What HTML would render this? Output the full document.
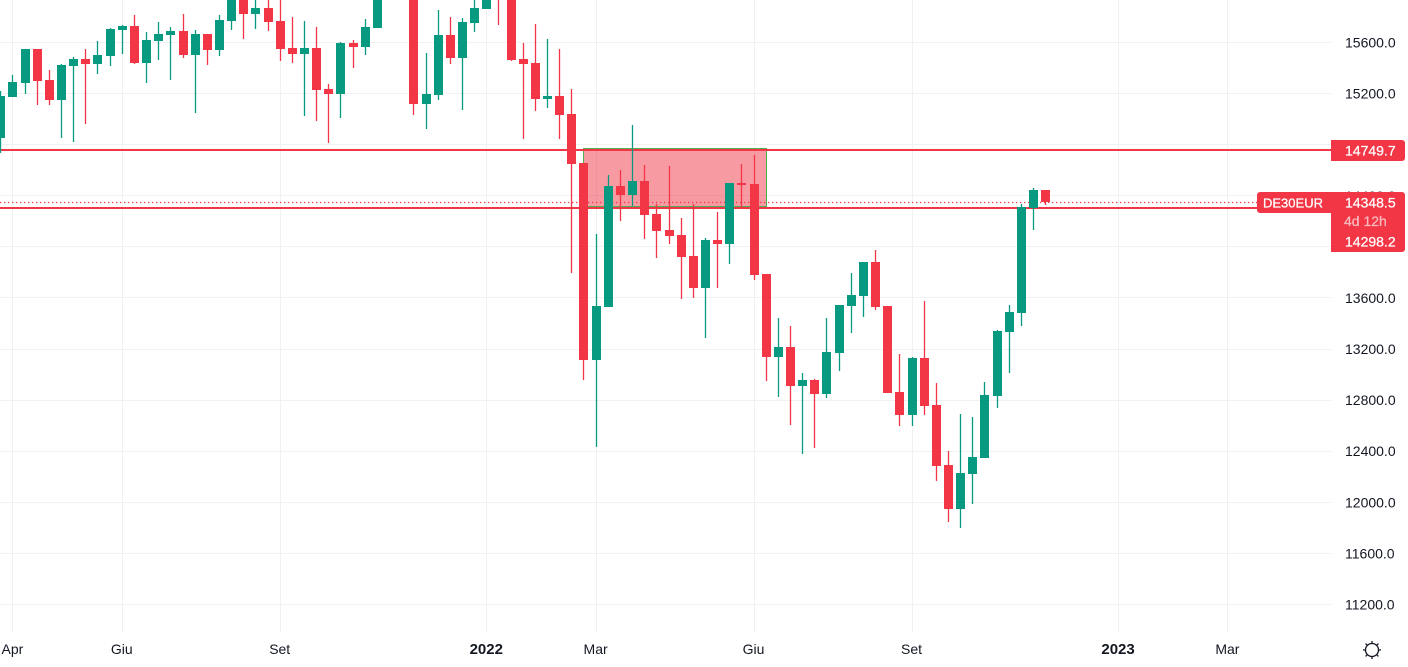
<!DOCTYPE html>
<html lang="it">
<head>
<meta charset="utf-8">
<title>DE30EUR chart</title>
<style>
html,body{margin:0;padding:0;background:#fff;width:1408px;height:667px;overflow:hidden}
svg{display:block;font-family:"Liberation Sans",sans-serif}
text{font-size:14px;fill:#131722}
</style>
</head>
<body>
<svg id="chart" xmlns="http://www.w3.org/2000/svg" width="1408" height="667" viewBox="0 0 1408 667">
  <g id="grid"></g>
  <g id="zone"></g>
  <g id="levels"></g>
  <g id="candles"></g>
  <g id="priceAxis"></g>
  <g id="timeAxis"></g>
  <g id="tags"></g>
  <g id="settings" fill="none" stroke="#131722" stroke-width="1.3">
    <circle cx="1372" cy="650" r="6.5"></circle>
    <path d="M1372 641v2.5M1372 656.5v2.5M1363 650h2.5M1378.5 650h2.5M1365.6 643.6l1.8 1.8M1376.6 654.6l1.8 1.8M1378.4 643.6l-1.8 1.8M1367.4 654.6l-1.8 1.8"></path>
  </g>
</svg>
<script>
var opens = [14854,15172,15282,15548,15305,15149,15415,15469,15430,15493,15696,15727,15438,15610,15657,15688,15501,15665,15540,15767,16009,15821,15868,15767,15555,15508,15555,15235,15195,15595,15563,15712,16000,16300,16050,15117,15188,15657,15477,15751,15860,16100,15990,15469,15438,15156,15180,15039,14656,13114,13529,14476,14405,14515,14257,14131,14092,13928,13678,14053,14022,14499,14491,13787,13138,13216,12911,12958,12848,13169,13537,13615,13881,13537,12864,12684,13130,12762,12293,11949,12223,12348,12833,13334,13482,14304,14444];
var highs = [15219,15344,15548,15548,15383,15430,15485,15548,15610,15712,15735,15814,15681,15759,15720,15821,15696,15665,15814,16087,16087,16009,16009,15990,15798,15767,15720,15274,15602,15618,15782,16050,16150,16350,16100,15516,15853,15798,15790,16000,16050,16150,16050,15595,15743,15626,15548,15235,14656,14100,14562,14601,14953,14640,14335,14632,14225,14335,14069,14272,14499,14648,14718,13787,13443,13380,13013,12966,13443,13545,13795,13881,13975,13537,13161,13138,13576,12934,12402,12692,12668,12942,13349,13545,14335,14460,14444];
var lows = [14736,15172,15195,15109,15109,14851,14820,14961,15352,15415,15508,15430,15282,15462,15305,15477,15047,15422,15493,15696,15626,15704,15688,15454,15438,15023,14984,14812,15008,15399,15501,15712,15950,15960,15031,14922,15149,15430,15070,15681,15860,15735,15454,14843,15063,15086,14843,13795,12958,12434,13529,14202,14319,14061,13912,14022,13592,13599,13287,13678,13865,14311,13740,12950,12825,12606,12379,12426,12817,13028,13326,13451,13506,12856,12598,12598,12684,12168,11847,11800,11988,12348,12739,13013,13380,14131,14327];
var closes = [15180,15289,15548,15297,15149,15422,15469,15430,15501,15704,15727,15438,15618,15665,15688,15501,15665,15540,15774,16009,15821,15868,15759,15548,15508,15555,15227,15195,15595,15563,15720,16000,16100,16050,15117,15195,15657,15477,15759,15868,16000,15960,15462,15430,15156,15180,15031,14648,13114,13537,14476,14405,14515,14249,14124,14085,13920,13678,14053,14022,14499,14484,13779,13138,13216,12911,12958,12848,13177,13545,13623,13881,13529,12856,12684,13130,12755,12285,11949,12230,12356,12841,13341,13490,14311,14444,14348.5];
var priceTicks = [16000,15600,15200,14800,14400,14000,13600,13200,12800,12400,12000,11600,11200];
var timeLabels = ["Apr","Giu","Set","2022","Mar","Giu","Set","2023","Mar"];
var timeLabelCandles = [1,10,23,40,49,62,75,92,101];
var timeLabelBold = [false,false,false,true,false,false,false,true,false];
var levelPrices = [14749.7,14298.2];
var lastPrice = 14348.5;
var zoneTopPrice = 14772;
var zoneBottomPrice = 14309;
var zoneStartCandle = 48;
var zoneEndCandle = 63;

var NS = "http://www.w3.org/2000/svg";
var GREEN = "#089981", RED = "#f23645";
var PLOT_RIGHT = 1331, PLOT_BOTTOM = 632;

function xAt(i){ return 0.75 + 12.15 * i; }
function yAt(p){ return 42.5 + (15600 - p) * 0.12773; }
function make(tag, parent, props){
  var el = document.createElementNS(NS, tag);
  for (var k in props) el.setAttribute(k, props[k]);
  parent.appendChild(el);
  return el;
}

var grid = document.getElementById("grid");
priceTicks.forEach(function(p){
  var r = make("rect", grid, {x:0, y:Math.floor(yAt(p)), width:PLOT_RIGHT, height:1, fill:"#f0f1f3"});
  
  
});
timeLabelCandles.forEach(function(i){
  var r = make("rect", grid, {x:Math.floor(xAt(i)), y:0, width:1, height:PLOT_BOTTOM, fill:"#f0f1f3"});
  
  
});

var zone = document.getElementById("zone");
var zx = Math.round(xAt(zoneStartCandle)) - 0.5;
var zw = Math.round(xAt(zoneEndCandle)) + 0.5 - zx;
var zy = Math.round(yAt(zoneTopPrice)) + 0.5;
var zh = Math.round(yAt(zoneBottomPrice)) - 0.5 - zy;
var zoneRect = make("rect", zone, {x:zx, y:zy, width:zw, height:zh, fill:"rgba(242,54,69,0.5)", stroke:"#4caf50", "stroke-width":1});



var levels = document.getElementById("levels");
var dotY = Math.floor(yAt(lastPrice));
var dots = make("line", levels, {x1:0, x2:PLOT_RIGHT, y1:dotY + 0.5, y2:dotY + 0.5, stroke:RED, "stroke-width":1.3, "stroke-dasharray":"1.3 2.7"});


levelPrices.forEach(function(p){
  var r = make("rect", levels, {x:0, y:Math.floor(yAt(p) - 1.6), width:PLOT_RIGHT, height:2, fill:RED});
  
  
});

var candles = document.getElementById("candles");
opens.forEach(function(o, i){
  var c = closes[i], up = c >= o, col = up ? GREEN : RED;
  var left = Math.round(xAt(i) - 4.5);
  var hiY = Math.round(yAt(highs[i])), loY = Math.round(yAt(lows[i]));
  var top = Math.round(yAt(Math.max(o, c))), bot = Math.round(yAt(Math.min(o, c)));
  var g = make("g", candles, {});
  
  
  make("rect", g, {x:left + 3.85, y:hiY, width:1.3, height:Math.max(loY - hiY, 1), fill:col});
  make("rect", g, {x:left, y:top, width:9, height:Math.max(bot - top, 1), fill:col});
});

var priceAxis = document.getElementById("priceAxis");
priceTicks.forEach(function(p){
  var t = make("text", priceAxis, {x:1345, y:yAt(p) + 5});
  
  
  t.textContent = p.toFixed(1);
});

var timeAxis = document.getElementById("timeAxis");
timeLabels.forEach(function(label, n){
  var t = make("text", timeAxis, {x:xAt(timeLabelCandles[n]) - 0.5, y:654, "text-anchor":"middle"});
  
  
  if (timeLabelBold[n]) {
    t.setAttribute("font-weight", "bold");
    t.style.fontSize = "15px";
  }
  t.textContent = label;
});

var tags = document.getElementById("tags");
var tagTop = make("path", tags, {d:"M1331 140H1402a3 3 0 0 1 3 3V158a3 3 0 0 1 -3 3H1331Z", fill:RED});


var tagMain = make("path", tags, {d:"M1260 192H1402a3 3 0 0 1 3 3V249a3 3 0 0 1 -3 3H1331V213H1260a3 3 0 0 1 -3 -3V195a3 3 0 0 1 3 -3Z", fill:RED});



function tagText(name, str, x, y, size, opacity){
  var t = make("text", tags, {x:x, y:y});
  
  
  t.style.fill = "#fff";
  t.style.stroke = "#fff";
  t.style.strokeWidth = "0.25px";
  t.style.fontSize = size + "px";
  t.style.opacity = opacity;
  t.textContent = str;
}
tagText("resistance-level-value", levelPrices[0].toFixed(1), 1345, 155.5, 14, 1);
tagText("symbol-name", "DE30EUR", 1263, 207.5, 13, 1);
tagText("last-price-value", lastPrice.toFixed(1), 1345, 207.5, 14, 1);
tagText("bar-countdown", "4d 12h", 1344, 226, 14, 0.65);
tagText("support-level-value", levelPrices[1].toFixed(1), 1345, 246.5, 14, 1);
</script>
</body>
</html>
